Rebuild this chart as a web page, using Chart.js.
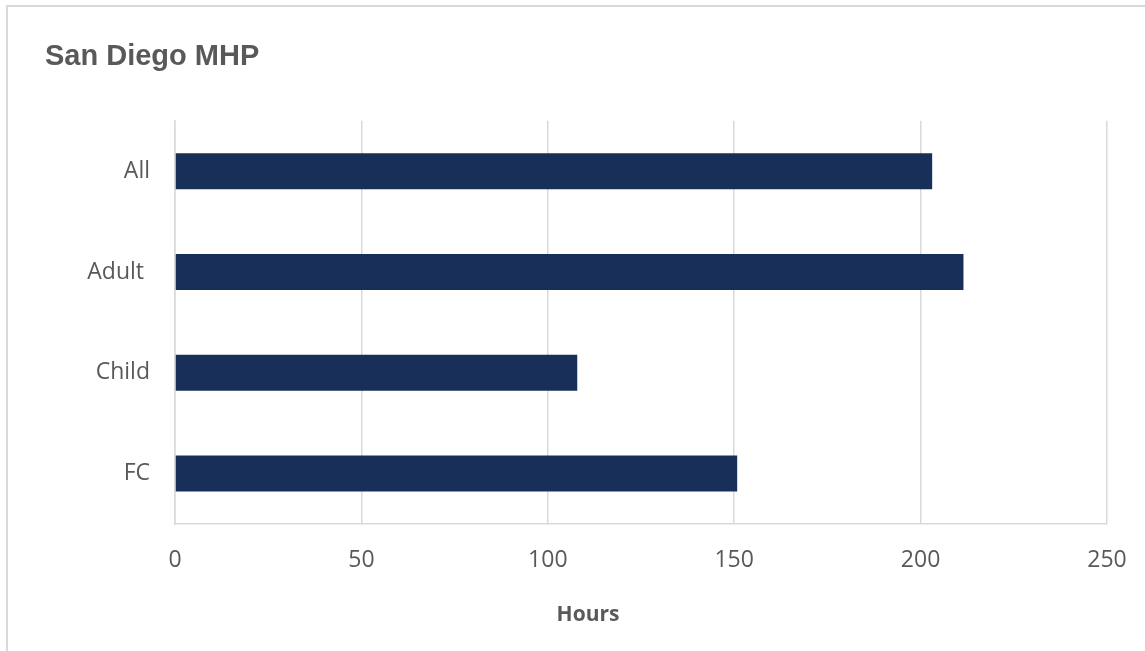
<!DOCTYPE html>
<html>
<head>
<meta charset="utf-8">
<script src="https://cdn.jsdelivr.net/npm/chart.js@4/dist/chart.umd.min.js"></script>
<style>
  body { margin: 0; background: #fff; overflow: hidden; }
  #frame { position: absolute; left: 6px; top: 5px; width: 1200px; height: 700px;
           border-left: 2px solid #d9d9d9; border-top: 2px solid #d9d9d9; }
  #chart { position: absolute; left: 0; top: 0; }
</style>
</head>
<body>
<div id="frame"></div>
<canvas id="chart" width="1145" height="651"></canvas>
<script>
// dados do gráfico
const categorias = ['All', 'Adult ', 'Child', 'FC'];
const horas = [203.1, 211.5, 107.9, 150.8];
const tituloGrafico = 'San Diego MHP';
const tituloEixoX = 'Hours';

const corTexto = '#595959';
const corGrade = '#d9d9d9';

// título do eixo x (no original ele fica um pouco à esquerda do centro do gráfico)
const tituloEixoPlugin = {
    id: 'tituloEixo',
    afterDraw(chart) {
        const c = chart.ctx;
        c.save();
        c.font = 'bold 21px "Open Sans", sans-serif';
        c.fillStyle = corTexto;
        c.textAlign = 'center';
        c.textBaseline = 'middle';
        c.fillText(tituloEixoX, 588, 615);
        c.restore();
    }
};

const ctx = document.getElementById('chart').getContext('2d');
const grafico = new Chart(ctx, {
    type: 'bar',
    data: {
        labels: categorias,
        datasets: [{
            label: tituloEixoX,
            data: horas,
            backgroundColor: '#183059',
            borderWidth: 0,
            barPercentage: 0.357,
            categoryPercentage: 1
        }]
    },
    options: {
        indexAxis: 'y',
        responsive: false,
        animation: false,
        layout: { padding: { left: 45, right: 38, top: 0, bottom: 0 } },
        plugins: {
            legend: { display: false },
            tooltip: { enabled: false },
            title: {
                display: true,
                text: tituloGrafico,
                align: 'start',
                color: corTexto,
                font: { family: '"Liberation Sans", Arial, sans-serif', size: 29, weight: 'bold' },
                padding: { top: 40, bottom: 46 }
            }
        },
        scales: {
            x: {
                min: 0,
                max: 250,
                ticks: {
                    stepSize: 50,
                    color: corTexto,
                    padding: 23,
                    font: { family: '"Open Sans", sans-serif', size: 23 }
                },
                grid: { color: corGrade, lineWidth: 1.5, drawTicks: false },
                border: { color: corGrade, width: 1.5 },
                afterFit: (scale) => {
                    scale.height = 127;
                    scale.paddingLeft = 0;
                    scale.paddingRight = 0;
                }
            },
            y: {
                ticks: {
                    color: corTexto,
                    padding: 25,
                    font: { family: '"Open Sans", sans-serif', size: 23 }
                },
                grid: { display: false, drawTicks: false },
                border: { color: corGrade, width: 1.5 },
                afterFit: (scale) => { scale.width = 130; }
            }
        }
    },
    plugins: [tituloEixoPlugin]
});
</script>
</body>
</html>
